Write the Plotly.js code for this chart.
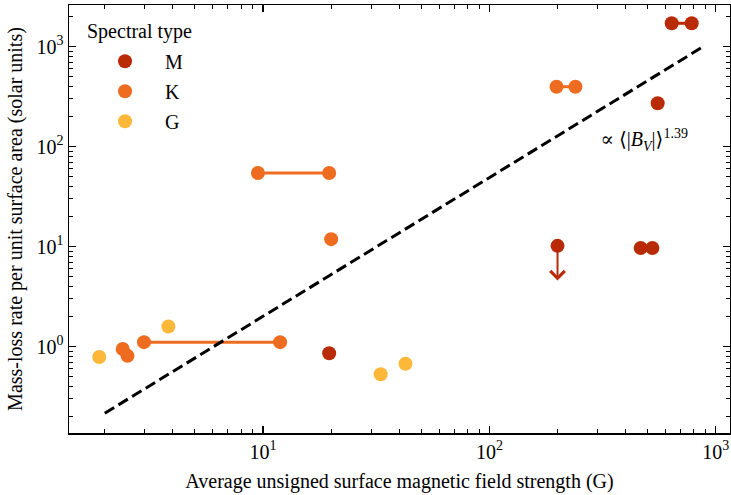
<!DOCTYPE html>
<html>
<head>
<meta charset="utf-8">
<script src="https://cdn.plot.ly/plotly-3.0.1.min.js"></script>
<style>
html,body{margin:0;padding:0;background:#fff;}
#chart{width:731px;height:495px;}
#chart svg text{font-family:"Liberation Serif","Times New Roman","DejaVu Serif",serif !important;}
</style>
</head>
<body>
<div id="chart"></div>
<script>
// ---- data ----
const categories = ['M', 'K', 'G'];
const colors = {M: '#b92a06', K: '#ee6c1f', G: '#fdb83a'};

// single measurements
const M_x = [19.6, 200, 554];
const M_y = [0.86, 10.2, 272];
const K_x = [2.40, 2.52, 20.0];
const K_y = [0.95, 0.81, 11.9];
const G_x = [1.89, 3.82, 33.1, 42.6];
const G_y = [0.79, 1.59, 0.53, 0.676];

// ranges in field strength (pairs joined by a line)
const M_pair_lo = [466, 639];
const M_pair_hi = [525, 783];
const M_pair_y  = [9.7, 1714];
const K_pair_lo = [2.98, 9.5, 198];
const K_pair_hi = [11.9, 19.6, 240];
const K_pair_y  = [1.11, 54.6, 398];

// upper limit
const UL_x = [200];
const UL_y = [10.2];
const UL_tip = [4.6];

// power-law fit line endpoints
const fit_x = [2.0, 870];
const fit_y = [0.216, 986];
const fitLabel = '∝ ⟨|<i>B</i><sub><i>V</i></sub>|⟩<sup>1.39</sup>';

// tick labels
const xTickVals = [10, 100, 1000];
const xTickText = ['10<sup>1</sup>', '10<sup>2</sup>', '10<sup>3</sup>'];
const yTickVals = [1, 10, 100, 1000];
const yTickText = ['10<sup>0</sup>', '10<sup>1</sup>', '10<sup>2</sup>', '10<sup>3</sup>'];

const xTitle = 'Average unsigned surface magnetic field strength (G)';
const yTitle = 'Mass-loss rate per unit surface area (solar units)';
const legendTitle = 'Spectral type';

// ---- build ----
const FONT = '"Liberation Serif", "Times New Roman", serif';
const singles = {M: [M_x, M_y], K: [K_x, K_y], G: [G_x, G_y]};
const pairs = {M: [M_pair_lo, M_pair_hi, M_pair_y], K: [K_pair_lo, K_pair_hi, K_pair_y]};

function minorVals(lo, hi) {
  const out = [];
  for (let k = lo; k <= hi; k++) for (let d = 2; d <= 9; d++) out.push(d * Math.pow(10, k));
  return out;
}

const traces = [];
categories.forEach((c, i) => {
  if (pairs[c]) {
    const [lo, hi, yy] = pairs[c];
    const px = [], py = [];
    lo.forEach((v, j) => { px.push(v, hi[j], null); py.push(yy[j], yy[j], null); });
    traces.push({
      x: px, y: py, type: 'scatter', mode: 'lines+markers', showlegend: false,
      legendgroup: c, hoverinfo: 'skip',
      line: {color: colors[c], width: 3},
      marker: {color: colors[c], size: 14, line: {width: 0}}
    });
  }
  traces.push({
    x: singles[c][0], y: singles[c][1], type: 'scatter', mode: 'markers',
    name: '\u2002\u2002' + c, legendgroup: c, legendrank: i + 1,
    marker: {color: colors[c], size: 14, line: {width: 0}}
  });
});
traces.push({
  x: fit_x, y: fit_y, type: 'scatter', mode: 'lines', showlegend: false,
  line: {color: '#000', width: 3, dash: '11px,5px'}, hoverinfo: 'skip'
});

const axisCommon = {
  type: 'log', showline: true, linecolor: '#000', linewidth: 1.5, mirror: 'ticks',
  ticks: 'inside', ticklen: 7, tickwidth: 1.3, tickcolor: '#000',
  showgrid: false, zeroline: false, tickmode: 'array',
  tickfont: {family: FONT, size: 20, color: '#000'}
};

const annotations = [
  {xref: 'paper', yref: 'paper', x: 0.024, y: 0.939, xanchor: 'left', yanchor: 'middle',
   text: legendTitle, showarrow: false, font: {family: FONT, size: 20, color: '#000'}},
  {xref: 'x', yref: 'y', x: Math.log10(302), y: Math.log10(117), xanchor: 'left', yanchor: 'middle',
   text: fitLabel, showarrow: false, font: {family: FONT, size: 20, color: '#000'}}
];
UL_x.forEach((v, j) => {
  annotations.push({
    xref: 'x', yref: 'y', axref: 'x', ayref: 'y',
    x: Math.log10(v), y: Math.log10(UL_tip[j]), ax: Math.log10(v), ay: Math.log10(UL_y[j]),
    text: '', showarrow: true, arrowhead: 4, arrowsize: 1.4, arrowwidth: 2, arrowcolor: colors.M
  });
});

const layout = {
  width: 731, height: 495,
  margin: {l: 69, r: 1, t: 5, b: 62},
  paper_bgcolor: '#fff', plot_bgcolor: '#fff',
  font: {family: FONT, size: 20, color: '#000'},
  xaxis: Object.assign({}, axisCommon, {
    range: [0.1429, 3.063], tickvals: xTickVals, ticktext: xTickText,
    minor: {tickmode: 'array', tickvals: minorVals(0, 3), ticks: 'inside', ticklen: 4, tickwidth: 1, tickcolor: '#000', showgrid: false},
    title: {text: xTitle, font: {family: FONT, size: 20, color: '#000'}, standoff: 12}
  }),
  yaxis: Object.assign({}, axisCommon, {
    range: [-0.863, 3.417], tickvals: yTickVals, ticktext: yTickText,
    minor: {tickmode: 'array', tickvals: minorVals(-1, 3), ticks: 'inside', ticklen: 4, tickwidth: 1, tickcolor: '#000', showgrid: false},
    title: {text: yTitle, font: {family: FONT, size: 20, color: '#000'}, standoff: 8}
  }),
  showlegend: true,
  legend: {x: 0.0545, y: 0.914, xanchor: 'left', yanchor: 'top', bgcolor: 'rgba(0,0,0,0)',
           borderwidth: 0, font: {family: FONT, size: 20, color: '#000'}, tracegroupgap: 1},
  annotations: annotations
};

Plotly.newPlot('chart', traces, layout, {displayModeBar: false, staticPlot: true});
</script>
</body>
</html>
